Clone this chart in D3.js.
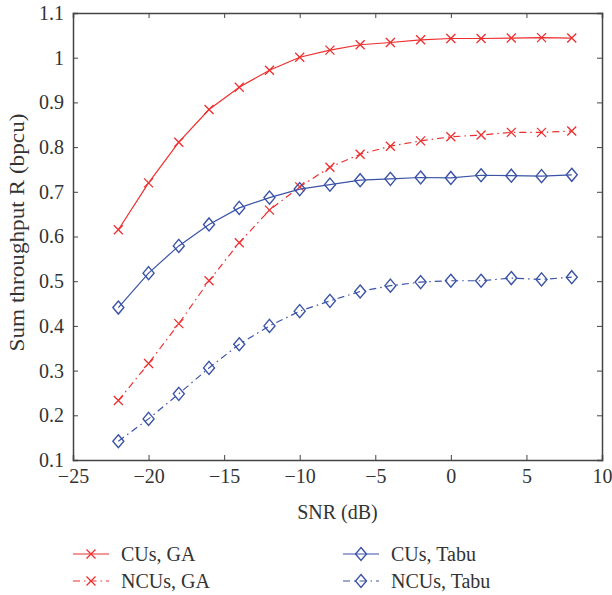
<!DOCTYPE html>
<html><head><meta charset="utf-8">
<script src="https://cdn.jsdelivr.net/npm/d3@7"></script>
<style>body{margin:0;background:#fff}svg{display:block}text{font-family:"Liberation Serif","DejaVu Serif",serif;fill:#333}</style>
</head><body><svg id="c" width="612" height="595"></svg>
<script>
const snr = [-22,-20,-18,-16,-14,-12,-10,-8,-6,-4,-2,0,2,4,6,8];
const cusGA = [0.615,0.720,0.811,0.884,0.934,0.972,1.001,1.017,1.029,1.034,1.040,1.043,1.043,1.044,1.045,1.044];
const ncusGA = [0.233,0.316,0.405,0.501,0.586,0.659,0.711,0.755,0.784,0.802,0.814,0.823,0.827,0.833,0.833,0.836];
const cusTabu = [0.441,0.518,0.579,0.627,0.664,0.687,0.706,0.716,0.726,0.729,0.732,0.731,0.737,0.736,0.735,0.738];
const ncusTabu = [0.142,0.192,0.248,0.306,0.359,0.400,0.433,0.456,0.477,0.490,0.498,0.501,0.501,0.507,0.504,0.509];
const xTicks = [-25,-20,-15,-10,-5,0,5,10];
const yTicks = [0.1,0.2,0.3,0.4,0.5,0.6,0.7,0.8,0.9,1.0,1.1];
const seriesNames = ["CUs, GA","NCUs, GA","CUs, Tabu","NCUs, Tabu"];

const svg = d3.select("#c");
const L=73, R=602, T=13, B=460;
const x = d3.scaleLinear().domain([-25,10]).range([L,R]);
const y = d3.scaleLinear().domain([0.1,1.1]).range([B,T]);
const RED="#ee2f2f", BLUE="#3a53a6", AX="#444";
const DASHDOT="7,4,1.5,4";
const FS=20;

const series = [
  {name:seriesNames[0], vals:cusGA, color:RED, dash:null, mk:"x"},
  {name:seriesNames[1], vals:ncusGA, color:RED, dash:DASHDOT, mk:"x"},
  {name:seriesNames[2], vals:cusTabu, color:BLUE, dash:null, mk:"d"},
  {name:seriesNames[3], vals:ncusTabu, color:BLUE, dash:DASHDOT, mk:"d"}
];

const g = svg.append("g");
const fmtX = d => d<0 ? "\u2212"+Math.abs(d) : String(d);
const fmtY = d => d===1 ? "1" : d3.format(".1f")(d);

const axB = d3.axisBottom(x).tickValues(xTicks).tickSize(-5).tickPadding(9).tickFormat(fmtX);
const axT = d3.axisTop(x).tickValues(xTicks).tickSize(-5).tickFormat("");
const axL = d3.axisLeft(y).tickValues(yTicks).tickSize(-5).tickPadding(9).tickFormat(fmtY);
const axR = d3.axisRight(y).tickValues(yTicks).tickSize(-5).tickFormat("");

function style(sel){
  sel.select(".domain").attr("stroke",AX).attr("stroke-width",1.5);
  sel.selectAll(".tick line").attr("stroke",AX).attr("stroke-width",1);
  sel.selectAll(".tick text").attr("font-size",FS).attr("fill","#333")
     .attr("font-family",'"Liberation Serif","DejaVu Serif",serif');
}
g.append("g").attr("transform",`translate(0,${B})`).call(axB).call(style);
g.append("g").attr("transform",`translate(0,${T})`).call(axT).call(style);
g.append("g").attr("transform",`translate(${L},0)`).call(axL).call(style);
g.append("g").attr("transform",`translate(${R},0)`).call(axR).call(style);

svg.append("text").attr("x",(L+R)/2).attr("y",519).attr("text-anchor","middle").attr("font-size",FS).text("SNR (dB)");
svg.append("text").attr("transform",`translate(24,${(T+B)/2 - 4}) rotate(-90)`).attr("text-anchor","middle")
  .attr("font-size",21).attr("textLength",238).attr("lengthAdjust","spacingAndGlyphs").text("Sum throughput R (bpcu)");

const line = d3.line().x((d,i)=>x(snr[i])).y(d=>y(d));

function marker(sel, type, color){
  if(type==="x"){
    sel.append("path").attr("d","M-4.5,-4.5L4.5,4.5M-4.5,4.5L4.5,-4.5").attr("stroke",color).attr("stroke-width",1.3).attr("fill","none");
  } else {
    sel.append("path").attr("d","M0,-6.5L5.5,0L0,6.5L-5.5,0Z").attr("stroke",color).attr("stroke-width",1.4).attr("fill","none");
  }
}

series.forEach(s=>{
  svg.append("path").datum(s.vals).attr("d",line).attr("fill","none")
    .attr("stroke",s.color).attr("stroke-width",1.2)
    .attr("stroke-dasharray",s.dash);
  svg.append("g").selectAll("g").data(s.vals).join("g")
    .attr("transform",(d,i)=>`translate(${x(snr[i])},${y(d)})`)
    .each(function(){ marker(d3.select(this), s.mk, s.color); });
});

const legPos = [[73,554],[73,581],[343,554],[343,581]];
series.forEach((s,i)=>{
  const [lx,ly]=legPos[i];
  const lg = svg.append("g").attr("transform",`translate(${lx},${ly})`);
  lg.append("line").attr("x1",0).attr("x2",36).attr("y1",0).attr("y2",0)
    .attr("stroke",s.color).attr("stroke-width",1.2).attr("stroke-dasharray",s.dash);
  const m = lg.append("g").attr("transform","translate(18,0)");
  marker(m, s.mk, s.color);
  lg.append("text").attr("x",48).attr("y",6.5).attr("font-size",FS).text(s.name);
});
</script></body></html>
